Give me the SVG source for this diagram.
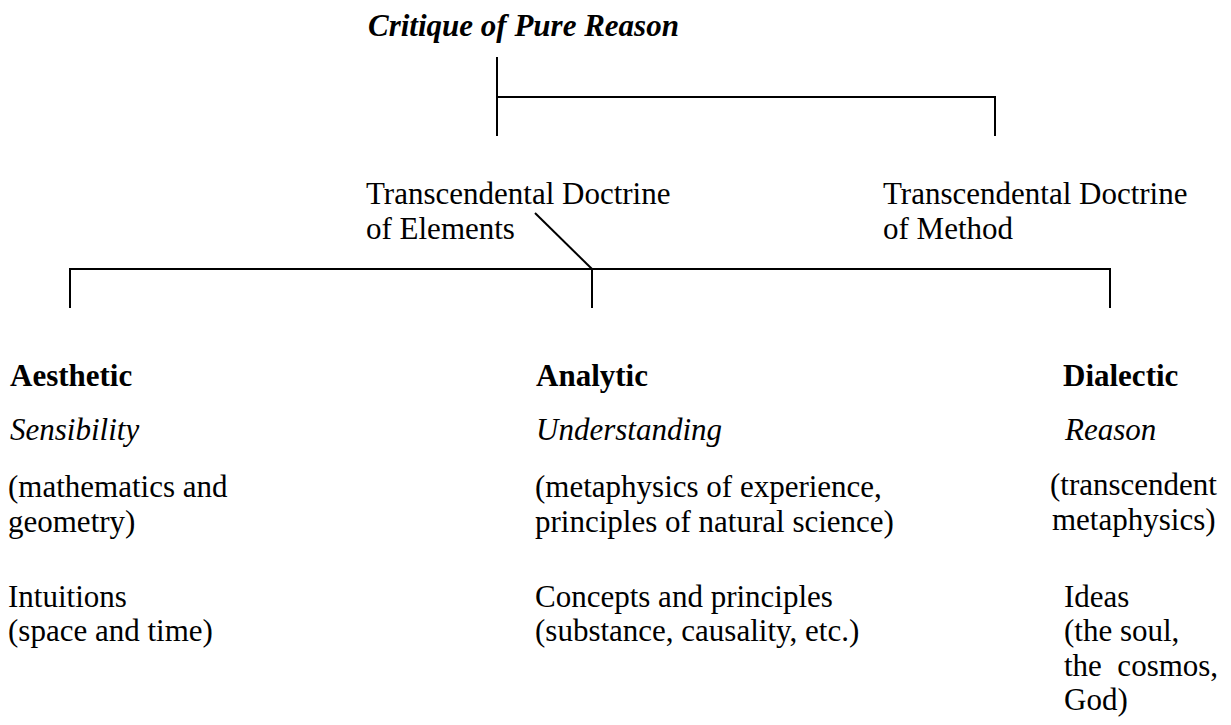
<svg xmlns="http://www.w3.org/2000/svg" width="1231" height="725" viewBox="0 0 1231 725">
<style>
text { font-family: "Liberation Serif", "Times New Roman", serif; font-size: 31px; fill: #000; white-space: pre; }
.title { font-weight: bold; font-style: italic; }
.head { font-weight: bold; }
.fac { font-style: italic; }
.conn line, .conn polyline { stroke: #000; stroke-width: 2; fill: none; }
</style>
<rect width="1231" height="725" fill="#fff"/>
<g id="critique">
<text class="title" x="368" y="36">Critique of Pure Reason</text>
</g>
<g id="elements">
<text x="366" y="204">Transcendental Doctrine</text>
<text x="366" y="239">of Elements</text>
</g>
<g id="method">
<text x="883" y="204">Transcendental Doctrine</text>
<text x="883" y="239">of Method</text>
</g>
<g id="aesthetic">
<text class="head" x="10" y="386">Aesthetic</text>
<text class="fac" x="10" y="440">Sensibility</text>
<text x="8" y="497">(mathematics and</text>
<text x="8" y="532">geometry)</text>
<text x="8" y="607">Intuitions</text>
<text x="8" y="641">(space and time)</text>
</g>
<g id="analytic">
<text class="head" x="536" y="386">Analytic</text>
<text class="fac" x="536" y="440">Understanding</text>
<text x="535" y="497">(metaphysics of experience,</text>
<text x="535" y="532">principles of natural science)</text>
<text x="535" y="607">Concepts and principles</text>
<text x="535" y="641">(substance, causality, etc.)</text>
</g>
<g id="dialectic">
<text class="head" x="1063" y="386">Dialectic</text>
<text class="fac" x="1065" y="440">Reason</text>
<text x="1050" y="495">(transcendent</text>
<text x="1052" y="530">metaphysics)</text>
<text x="1064" y="607">Ideas</text>
<text x="1064" y="641">(the soul,</text>
<text x="1064" y="676">the  cosmos,</text>
<text x="1064" y="710">God)</text>
</g>
<g id="connectors" class="conn">
<line x1="497" y1="57" x2="497" y2="136"/>
<polyline points="497,97 995,97 995,136"/>
<line x1="535" y1="213" x2="592" y2="269"/>
<polyline points="70,308 70,269 1110,269 1110,308"/>
<line x1="592" y1="269" x2="592" y2="308"/>
</g>
</svg>
